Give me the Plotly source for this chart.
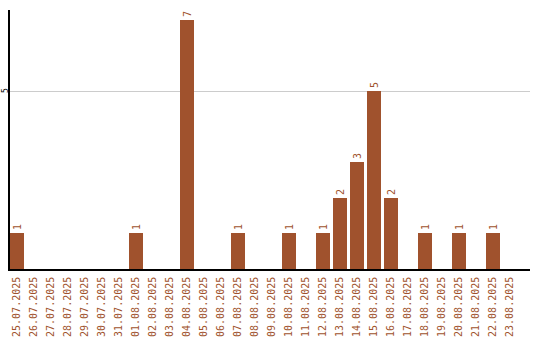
import plotly.graph_objects as go

dates = ["25.07.2025","26.07.2025","27.07.2025","28.07.2025","29.07.2025","30.07.2025","31.07.2025",
         "01.08.2025","02.08.2025","03.08.2025","04.08.2025","05.08.2025","06.08.2025","07.08.2025",
         "08.08.2025","09.08.2025","10.08.2025","11.08.2025","12.08.2025","13.08.2025","14.08.2025",
         "15.08.2025","16.08.2025","17.08.2025","18.08.2025","19.08.2025","20.08.2025","21.08.2025",
         "22.08.2025","23.08.2025"]
counts = [1,0,0,0,0,0,0,
          1,0,0,7,0,0,1,
          0,0,1,0,1,2,3,
          5,2,0,1,0,1,0,
          1,0]
y_ticks = [5]

labels = [str(c) if c > 0 else "" for c in counts]
color = "#A0522D"
x_idx = list(range(len(dates)))

fig = go.Figure(go.Bar(
    x=x_idx, y=counts, marker_color=color, marker_line_width=0,
    width=0.82, text=labels, textposition="outside", textangle=-90,
    textfont=dict(family="DejaVu Sans Mono", size=10, color=color),
    cliponaxis=False,
))
for t in y_ticks:
    fig.add_annotation(xref="paper", x=0, xanchor="center", yanchor="middle", xshift=-5,
                       y=t, yref="y", text=str(t), textangle=-90, showarrow=False,
                       font=dict(family="DejaVu Sans Mono", size=8, color="black"))
fig.update_layout(
    width=540, height=340, margin=dict(l=10, r=10, t=10, b=71),
    paper_bgcolor="white", plot_bgcolor="white", showlegend=False,
    bargap=0,
    xaxis=dict(range=[-0.41, 30.18], tickmode="array", tickvals=x_idx, ticktext=dates,
               tickangle=-90, tickfont=dict(family="DejaVu Sans Mono", size=10, color=color),
               showgrid=False, showline=True, linecolor="black", linewidth=1.5,
               ticks="", zeroline=False, automargin=False, ticklabelstandoff=2),
    yaxis=dict(range=[0, 7.28], tickmode="array", tickvals=y_ticks, showticklabels=False,
               showgrid=True, gridcolor="#cccccc", gridwidth=1, automargin=False,
               showline=True, linecolor="black", linewidth=1.5, ticks="", zeroline=False),
    uniformtext=dict(minsize=6, mode="show"),
)
fig.write_html("out.html")
